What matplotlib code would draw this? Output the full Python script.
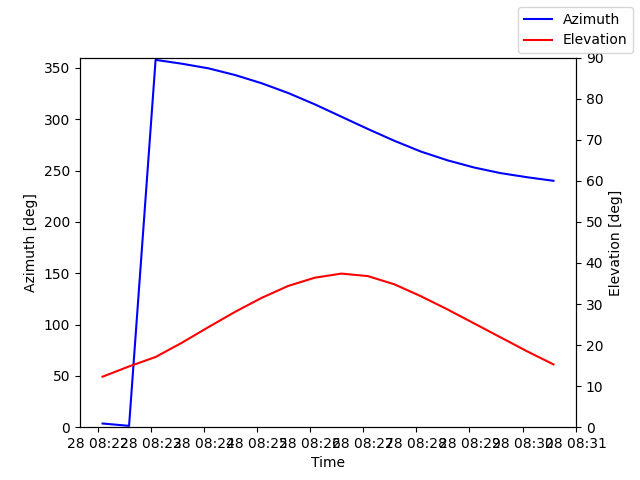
import numpy as np
import pandas as pd
import matplotlib
matplotlib.use("Agg")
import matplotlib.pyplot as plt
import matplotlib.dates as mdates

# pass samples, every 30 s
times = pd.date_range("2024-03-28 08:22:05", periods=18, freq="30s")
azimuth = [3.6, 1.3, 357.8, 354.0, 349.5, 343.0, 335.0, 325.5, 314.5,
           302.5, 290.5, 279.0, 268.5, 260.0, 253.0, 247.5, 243.5, 240.0]
elevation = [12.3, 14.8, 17.1, 20.6, 24.4, 28.1, 31.5, 34.4, 36.4,
             37.4, 36.8, 34.8, 31.9, 28.7, 25.3, 21.9, 18.5, 15.3]

fig, ax1 = plt.subplots(figsize=(6.4, 4.8), dpi=100)
ax1.plot(times, azimuth, color="blue", label="Azimuth")
ax1.set_ylim(0, 360)
ax1.set_ylabel("Azimuth [deg]")
ax1.set_xlabel("Time")

ax2 = ax1.twinx()
ax2.plot(times, elevation, color="red", label="Elevation")
ax2.set_ylim(0, 90)
ax2.set_ylabel("Elevation [deg]")

ax1.xaxis.set_major_locator(mdates.MinuteLocator())
ax1.xaxis.set_major_formatter(mdates.DateFormatter("%d %H:%M"))

fig.legend()
fig.savefig("out.png")
